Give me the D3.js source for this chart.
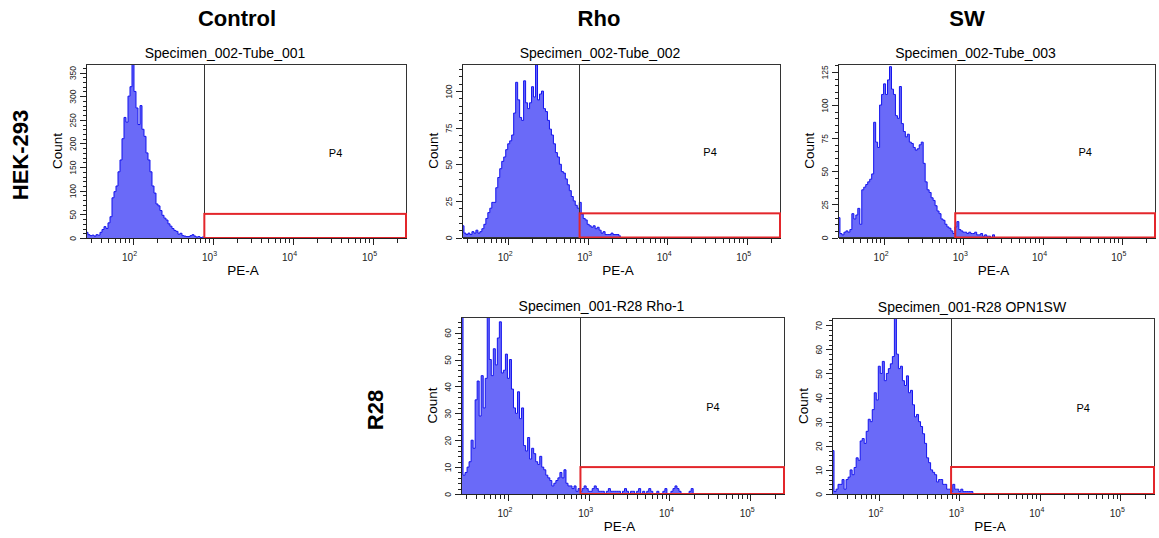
<!DOCTYPE html>
<html lang="en">
<head>
<meta charset="UTF-8">
<title>PE-A histograms</title>
<script src="https://cdn.jsdelivr.net/npm/d3@7"></script>
<style>
  body { margin: 0; background: #fff; }
  svg { display: block; font-family: Arial, "Liberation Sans", sans-serif; }
  .axis path, .axis line { stroke: #222; shape-rendering: crispEdges; }
  .axis text { fill: #222; }
</style>
</head>
<body>
<svg id="chart" width="1159" height="538"></svg>
<script>
// ---- data ----
const columns = ["Control", "Rho", "SW"];
const rows = ["HEK-293", "R28"];
const specimens = ["Specimen_002-Tube_001", "Specimen_002-Tube_002", "Specimen_002-Tube_003",
                   "Specimen_001-R28 Rho-1", "Specimen_001-R28 OPN1SW"];
const xDomain = [26.2, 262144];
const xMajor = [100, 1000, 10000, 100000];
const binStartLog = Math.log10(26.2);
const binWidthLog = 0.025;      // histogram channel width (decades)
const gateStart = 790;          // P4 gate lower limit on PE-A
const gateName = "P4";

// counts per channel, starting at the left edge of the axis
const hekControl = [12, 7, 5, 6, 4, 7, 6, 12, 18, 24, 20, 32, 45, 85, 98, 110, 140, 165, 210, 255,
  245, 300, 320, 368, 310, 275, 240, 280, 230, 215, 180, 165, 140, 110, 95, 72, 68, 58, 48, 42,
  38, 30, 25, 20, 16, 14, 8, 10, 5, 4, 3, 3, 5, 7, 4, 2, 3, 1, 2, 1];
const hekRho = [8, 3, 2, 3, 2, 4, 3, 5, 3, 4, 6, 9, 13, 17, 20, 24, 24, 34, 41, 47,
  52, 55, 60, 64, 66, 70, 85, 106, 94, 82, 80, 107, 92, 88, 92, 103, 96, 118, 94, 98,
  100, 88, 86, 80, 74, 70, 64, 58, 55, 50, 45, 44, 40, 36, 32, 28, 25, 22, 20, 24,
  16, 13, 12, 9, 8, 7, 8, 6, 7, 5, 3, 4, 2, 2, 2, 3, 2, 2, 2, 1];
const hekSW = [15, 3, 2, 4, 5, 4, 6, 18, 14, 17, 22, 10, 36, 38, 40, 42, 44, 48, 87, 72,
  68, 100, 108, 116, 108, 119, 129, 112, 108, 92, 90, 114, 86, 80, 76, 78, 72, 71, 68, 66,
  67, 70, 72, 56, 42, 36, 34, 30, 28, 24, 20, 18, 14, 13, 10, 8, 7, 5, 3, 8,
  12, 6, 5, 4, 4, 3, 4, 3, 3, 4, 2, 2, 3, 1, 2, 1, 1, 0, 2, 0];
const r28Rho = [70, 7, 8, 10, 12, 20, 17, 35, 42, 29, 44, 32, 43, 66, 50, 44, 54, 48, 58, 64,
  45, 46, 52, 43, 50, 39, 32, 30, 38, 28, 32, 18, 16, 21, 13, 17, 15, 12, 11, 14,
  10, 9, 7, 6, 5, 3, 4, 5, 6, 8, 6, 9, 4, 3, 3, 2, 3, 1, 2, 1,
  2, 3, 2, 1, 1, 2, 3, 2, 1, 1, 1, 0, 1, 2, 1, 1, 1, 1, 1, 0,
  1, 2, 1, 0, 1, 1, 0, 1, 2, 0, 1, 0, 1, 2, 1, 0, 0, 1, 0, 0,
  1, 2, 0, 0, 1, 2, 3, 2, 1, 0, 0, 0, 0, 1, 2, 0];
const r28SW = [18, 1, 2, 4, 4, 6, 2, 6, 7, 10, 8, 11, 15, 14, 22, 23, 21, 26, 31, 30,
  35, 42, 39, 53, 50, 55, 47, 50, 52, 54, 57, 73, 58, 52, 53, 47, 45, 49, 42, 43,
  37, 32, 33, 30, 28, 25, 21, 15, 13, 10, 9, 8, 5, 6, 6, 4, 4, 2, 2, 1,
  4, 2, 2, 1, 2, 1, 1, 1, 1, 1, 0];

const series = [hekControl, hekRho, hekSW, r28Rho, r28SW];
const yMax = [368, 118.5, 131, 65.8, 73];
const yLabelStep = [50, 25, 25, 10, 10];
const yMinorStep = [10, 5, 5, 2, 2];
const gateTop = [51, 16.5, 18.3, 10, 11.2];

// ---- layout ----
const panels = [
  { x0: 86, x1: 406, y0: 64, y1: 238 },
  { x0: 462, x1: 780, y0: 64, y1: 237.5 },
  { x0: 838, x1: 1155, y0: 64, y1: 237.5 },
  { x0: 461, x1: 784, y0: 317, y1: 494 },
  { x0: 832, x1: 1154, y0: 318, y1: 494 }
];
const colHeaderX = [237, 599, 967];
const rowLabelY = [155, 410];
const rowLabelX = [28, 383];

const svg = d3.select("#chart");

columns.forEach((c, i) => {
  svg.append("text")
    .attr("x", colHeaderX[i]).attr("y", 26)
    .attr("text-anchor", "middle")
    .attr("font-size", 22).attr("font-weight", "bold")
    .text(c);
});
rows.forEach((r, i) => {
  svg.append("text")
    .attr("transform", `translate(${rowLabelX[i]},${rowLabelY[i]}) rotate(-90)`)
    .attr("text-anchor", "middle")
    .attr("font-size", 22).attr("font-weight", "bold")
    .text(r);
});

const xMinor = [];
for (let d = 10; d <= 100000; d *= 10) {
  for (let m = 2; m <= 9; m++) {
    const v = d * m;
    if (v > xDomain[0] && v < xDomain[1]) xMinor.push(v);
  }
}

panels.forEach((p, k) => {
  const counts = series[k];
  const g = svg.append("g");
  const x = d3.scaleLog().domain(xDomain).range([p.x0, p.x1]);
  const y = d3.scaleLinear().domain([0, yMax[k]]).range([p.y1, p.y0]);

  const clipId = "clip" + k;
  g.append("clipPath").attr("id", clipId)
    .append("rect").attr("x", p.x0).attr("y", p.y0)
    .attr("width", p.x1 - p.x0).attr("height", p.y1 - p.y0);

  // histogram
  const pts = counts.map((c, i) => ({ v: Math.pow(10, binStartLog + i * binWidthLog), c: c }));
  pts.push({ v: Math.pow(10, binStartLog + counts.length * binWidthLog), c: counts[counts.length - 1] });
  const area = d3.area()
    .curve(d3.curveStepAfter)
    .x(d => x(d.v))
    .y0(p.y1)
    .y1(d => y(d.c));
  const line = d3.line()
    .curve(d3.curveStepAfter)
    .x(d => x(d.v))
    .y(d => y(d.c));
  const hg = g.append("g").attr("clip-path", `url(#${clipId})`);
  hg.append("path").datum(pts).attr("d", area).attr("fill", "#6a6af8");
  hg.append("path").datum(pts).attr("d", line)
    .attr("fill", "none").attr("stroke", "#1414ee").attr("stroke-width", 1);

  // frame and gate
  g.append("rect")
    .attr("x", p.x0).attr("y", p.y0)
    .attr("width", p.x1 - p.x0).attr("height", p.y1 - p.y0)
    .attr("fill", "none").attr("stroke", "#333").attr("shape-rendering", "crispEdges");
  g.append("line")
    .attr("x1", x(gateStart)).attr("x2", x(gateStart))
    .attr("y1", p.y0).attr("y2", y(gateTop[k]))
    .attr("stroke", "#333").attr("shape-rendering", "crispEdges");
  g.append("rect")
    .attr("x", x(gateStart)).attr("y", y(gateTop[k]))
    .attr("width", p.x1 - x(gateStart)).attr("height", p.y1 - y(gateTop[k]))
    .attr("fill", "none").attr("stroke", "#e3262b").attr("stroke-width", 2);
  g.append("text")
    .attr("x", p.x0 + 0.78 * (p.x1 - p.x0)).attr("y", p.y0 + 0.51 * (p.y1 - p.y0) + 4)
    .attr("text-anchor", "middle").attr("font-size", 11)
    .text(gateName);

  // y axis
  const yTicks = d3.range(0, yMax[k] + 0.001, yLabelStep[k]);
  const yMinor = d3.range(0, yMax[k] + 0.001, yMinorStep[k]);
  g.append("g").attr("class", "axis")
    .attr("transform", `translate(${p.x0},0)`)
    .call(d3.axisLeft(y).tickValues(yMinor).tickSize(3).tickSizeOuter(0).tickFormat(""));
  const ya = g.append("g").attr("class", "axis")
    .attr("transform", `translate(${p.x0},0)`)
    .call(d3.axisLeft(y).tickValues(yTicks).tickSize(6).tickSizeOuter(0).tickFormat(d3.format("d")));
  ya.select(".domain").remove();
  ya.selectAll("text")
    .attr("transform", "rotate(-90)")
    .attr("x", 0).attr("y", -10.5).attr("dy", 0)
    .attr("text-anchor", "middle")
    .attr("font-size", 8.5).attr("font-family", "Arial, 'Liberation Sans', sans-serif");

  // x axis
  g.append("g").attr("class", "axis")
    .attr("transform", `translate(0,${p.y1})`)
    .call(d3.axisBottom(x).tickValues(xMinor).tickSize(5).tickSizeOuter(0).tickFormat(""));
  const xa = g.append("g").attr("class", "axis")
    .attr("transform", `translate(0,${p.y1})`)
    .call(d3.axisBottom(x).tickValues(xMajor).tickSize(7).tickSizeOuter(0).tickFormat(""));
  xa.select(".domain").remove();
  xMajor.forEach(v => {
    const t = g.append("text")
      .attr("x", x(v) - 3).attr("y", p.y1 + 23)
      .attr("text-anchor", "middle").attr("fill", "#222");
    t.append("tspan").attr("font-size", 10).text("10");
    t.append("tspan").attr("font-size", 7).attr("dy", -5).text(Math.round(Math.log10(v)));
  });

  // labels
  g.append("text")
    .attr("x", (p.x0 + p.x1) / 2 - 21).attr("y", p.y0 - 6)
    .attr("text-anchor", "middle").attr("font-size", 14)
    .text(specimens[k]);
  g.append("text")
    .attr("transform", `translate(${p.x0 - 24},${(p.y0 + p.y1) / 2}) rotate(-90)`)
    .attr("text-anchor", "middle").attr("font-size", 13.5)
    .text("Count");
  g.append("text")
    .attr("x", (p.x0 + p.x1) / 2 - 3).attr("y", p.y1 + 37)
    .attr("text-anchor", "middle").attr("font-size", 13.5)
    .text("PE-A");
});
</script>
</body>
</html>
